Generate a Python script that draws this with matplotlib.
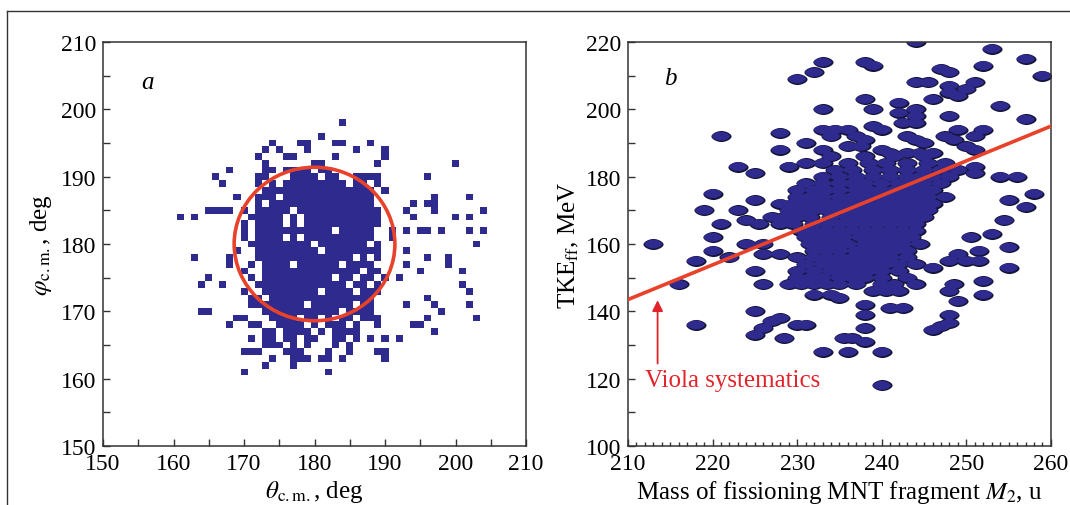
import numpy as np
import matplotlib
matplotlib.use('Agg')
import matplotlib.pyplot as plt
from matplotlib.path import Path
from matplotlib.markers import MarkerStyle
from matplotlib.patches import Circle
from matplotlib.lines import Line2D
from matplotlib.colors import ListedColormap
from matplotlib.ticker import MultipleLocator

plt.rcParams['font.family'] = 'serif'
plt.rcParams['font.serif'] = ['Liberation Serif', 'DejaVu Serif']
plt.rcParams['mathtext.fontset'] = 'stix'

# panel a: occupied 1-deg cells, theta values listed for each phi row
cells_a = {
    198: [184],
    196: [181],
    195: [174, 178, 179, 183, 184, 188],
    194: [173, 175, 179, 186, 190],
    193: [172, 176, 177, 183, 190],
    192: [173, 180, 181, 189, 200],
    191: [168, 173, 174, 176, 177, 178, 179, 181, 182],
    190: [166, 172, 173, 177, 178, 179, 180, 182, 183, 186, 187, 188, 189, 196],
    189: [167, 172, 174, 176, 177, 178, 179, 180, 181, 182, 183, 184, 186, 187, 189],
    188: [173, 174, 175, 176, 177, 178, 179, 180, 181, 182, 183, 184, 185, 186, 187, 188, 190],
    187: [169, 172, 173, 174, 176, 177, 178, 179, 180, 181, 182, 183, 184, 185, 186, 187, 188,
          197, 202],
    186: [172, 174, 175, 176, 177, 178, 179, 180, 181, 182, 183, 184, 185, 186, 187, 188,
          194, 196, 197],
    185: [165, 166, 167, 168, 170, 172, 173, 174, 175, 176, 178, 179, 180, 181, 182, 183,
          184, 185, 186, 187, 188, 189, 193, 197, 204],
    184: [161, 163, 171, 172, 173, 174, 175, 177, 179, 180, 181, 182, 183, 184, 185, 186,
          187, 188, 189, 194, 200, 202],
    183: [170, 172, 173, 174, 175, 177, 179, 180, 181, 182, 183, 184, 185, 186, 187, 188, 189],
    182: [170, 172, 173, 174, 175, 176, 177, 178, 179, 180, 181, 182, 184, 185, 186, 187, 188,
          191, 193, 195, 196, 198, 202, 204],
    181: [170, 172, 173, 174, 175, 177, 179, 180, 181, 182, 183, 184, 185, 186, 187, 188, 191],
    180: [171, 172, 173, 174, 175, 176, 177, 178, 179, 181, 182, 183, 184, 185, 186, 187,
          189, 203],
    179: [169, 172, 173, 174, 175, 176, 177, 178, 179, 180, 182, 183, 184, 185, 186, 187,
          188, 189, 193],
    178: [163, 168, 172, 173, 174, 175, 176, 177, 178, 179, 180, 181, 182, 183, 184, 185,
          187, 189, 196, 199],
    177: [168, 171, 173, 174, 175, 176, 178, 179, 180, 181, 182, 183, 185, 186, 187, 188,
          193, 199],
    176: [170, 173, 174, 175, 176, 177, 178, 179, 180, 181, 182, 183, 184, 185, 186, 188,
          189, 195, 201],
    175: [165, 171, 173, 174, 175, 176, 177, 178, 179, 180, 181, 182, 184, 185, 187, 188,
          190, 192],
    174: [164, 167, 172, 173, 174, 175, 176, 177, 178, 179, 180, 181, 182, 183, 184, 186,
          187, 189, 201],
    173: [170, 173, 174, 175, 176, 177, 178, 179, 180, 182, 183, 184, 185, 187, 188, 189, 202],
    172: [171, 172, 174, 175, 176, 177, 178, 179, 180, 181, 182, 183, 184, 185, 186, 187,
          188, 196],
    171: [171, 172, 173, 174, 175, 176, 177, 178, 180, 181, 182, 183, 184, 185, 187, 188,
          193, 197, 202],
    170: [164, 165, 173, 174, 175, 176, 177, 178, 179, 180, 181, 182, 183, 185, 186, 187,
          188, 198],
    169: [169, 170, 174, 175, 176, 177, 179, 180, 182, 184, 185, 187, 188, 189, 196, 203],
    168: [168, 171, 172, 175, 176, 177, 178, 180, 182, 183, 184, 186, 189, 194, 195],
    167: [173, 174, 176, 177, 178, 179, 181, 183, 184, 185, 186, 197],
    166: [171, 173, 174, 176, 177, 179, 180, 183, 184, 186, 188, 190, 192],
    165: [173, 174, 175, 177, 179, 183, 185],
    164: [170, 171, 172, 176, 177, 178, 182, 185, 189, 190],
    163: [174, 177, 178, 179, 181, 182, 184, 190],
    162: [173, 177],
    161: [170, 182],
}
circle_center = (180, 180)
circle_radius = 11.4

# panel b: blob centres (mass M2 values) listed for each TKE row
blobs_b = {
    220: [244], 218: [253], 215: [257], 214: [233, 238], 213: [239, 252],
    212: [247], 211: [232, 248], 210: [259], 209: [230], 208: [244, 245.5, 251],
    207: [248], 206: [250], 205: [248], 204: [249], 203: [238, 246], 202: [242],
    201: [254], 200: [233, 239, 244], 199: [242], 198: [244, 248], 197: [257],
    196: [242.5, 244], 195: [239], 194: [233, 234.5, 236, 240, 249, 252], 193: [228],
    192: [221, 234, 237, 243, 247.5, 251], 191: [238, 244, 248.5], 190: [231, 245],
    189: [236, 237.5, 250], 188: [228, 233, 240, 251], 187: [241, 243, 244.5, 246],
    186: [234, 238, 241.5, 245],
    184: [231, 233, 236, 238.5, 240.5, 243, 245.5, 247.5],
    183: [223, 229, 251],
    182: [234.5, 236.5, 239, 241, 243, 245, 247, 249],
    181: [225, 251],
    180: [233, 235, 237, 239, 241, 243, 244.5, 246, 248, 254, 256],
    178: [231, 233, 235, 236.5, 238, 240, 242, 243.5, 245, 247],
    176: [230, 232, 233.5, 235, 237, 238.5, 240, 241.5, 243, 244.5, 246],
    175: [220, 258],
    174: [230, 231.5, 233, 235, 236.5, 238, 239.5, 241, 242.5, 244, 245.5, 247.5],
    173: [225, 255],
    172: [228, 229.5, 231, 232.5, 234, 235.5, 237, 238.5, 240, 241.5, 243, 244.5, 246],
    171: [257],
    170: [219, 223, 229, 230.5, 232, 233.5, 235, 236.5, 238, 239.5, 241, 242.5, 244, 245.5],
    168: [227, 228.5, 230, 231.5, 234, 236, 237.5, 239, 240.5, 242, 243.5, 245],
    167: [224, 254.5],
    166: [221, 225.5, 228, 229.5, 232, 233.5, 235, 236.5, 238, 239.5, 241, 242.5, 244],
    164: [230.5, 232, 233.5, 235, 236.5, 238, 239.5, 241, 242.5, 244],
    163: [253],
    162: [220, 231, 232.5, 234, 235.5, 237.5, 239, 240.5, 242, 243.5, 250.5],
    160: [213, 224, 226, 231.5, 233, 234.5, 236, 238, 239.5, 241, 242.5, 244.5],
    159: [255],
    158: [220, 232, 233.5, 235, 237, 238.5, 240, 241.5, 243, 251.5],
    157: [226, 228, 249],
    156: [222, 230, 232, 233.5, 235, 236.5, 238, 239.5, 241, 243],
    155: [218, 248, 250, 251.5],
    154: [231, 233, 234.5, 236, 237.5, 239, 240.5, 242, 244],
    153: [255, 246],
    152: [225, 230, 232, 234, 235.5, 237, 238.5, 240, 242],
    150: [230, 231.5, 233, 235, 236.5, 238, 240, 243],
    149: [252],
    148: [216, 226, 229, 230.5, 232, 233.5, 235, 237, 240, 241.5, 244, 248.5],
    146: [239, 240.5, 242, 248],
    145: [232, 234, 252],
    144: [235],
    143: [249],
    142: [238],
    141: [241, 242.5],
    140: [225],
    139: [238, 248],
    138: [228],
    137: [227],
    136.5: [248],
    136: [218, 230, 231],
    135.5: [247],
    135: [226, 238],
    134.5: [246],
    133: [225],
    132: [228.5, 235.5, 236.5],
    131: [238],
    128: [233, 236, 240],
    118: [240],
}
viola_mass = [210, 260]
viola_tke = [143.5, 195]

theta_a = [t for p, ts in cells_a.items() for t in ts]
phi_a = [p for p, ts in cells_a.items() for t in ts]
mass_b = [m for t, ms in blobs_b.items() for m in ms]
tke_b = [t for t, ms in blobs_b.items() for m in ms]

navy = '#2f2a8e'
red = '#e8432a'

fig = plt.figure(figsize=(10.7, 5.06), dpi=100)
ax1 = fig.add_axes([0.0963, 0.1166, 0.3953, 0.7984])
ax2 = fig.add_axes([0.5869, 0.1166, 0.3953, 0.7984])

# --- panel a
edges = np.arange(149.5, 211.0, 1.0)
H, xe, ye = np.histogram2d(theta_a, phi_a, bins=[edges, edges])
H = np.ma.masked_equal(H.T, 0)
ax1.pcolormesh(xe, ye, H, cmap=ListedColormap([navy]), vmin=0, vmax=1)
ax1.add_patch(Circle(circle_center, circle_radius, fill=False, ec=red, lw=2.6, zorder=3))
ax1.set_xlim(150, 210)
ax1.set_ylim(150, 210)
ax1.xaxis.set_major_locator(MultipleLocator(10))
ax1.yaxis.set_major_locator(MultipleLocator(10))
ax1.xaxis.set_minor_locator(MultipleLocator(5))
ax1.yaxis.set_minor_locator(MultipleLocator(5))
ax1.set_xlabel(r'$\theta_{\mathrm{c{.}m{.}}}$, deg', fontsize=18, labelpad=3)
ax1.set_ylabel(r'$\varphi_{\mathrm{c{.}m{.}}}$, deg', fontsize=18, labelpad=5)
ax1.text(0.106, 0.90, 'a', transform=ax1.transAxes, fontsize=18, style='italic',
         ha='center', va='center')

# --- panel b: outlined layer first, then plain fill on top hides inner edges
t = np.linspace(0, 2 * np.pi, 73)
bx = np.sign(np.cos(t)) * np.abs(np.cos(t)) ** 1.2
by = 0.5 * np.sign(np.sin(t)) * np.abs(np.sin(t)) ** 1.2
blob = MarkerStyle(Path(np.column_stack([bx, by]), closed=True))
ax2.scatter(mass_b, tke_b, s=13.0 ** 2, marker=blob, facecolor=navy,
            edgecolor='#15153a', linewidth=1.5, zorder=2)
ax2.scatter(mass_b, tke_b, s=13.0 ** 2, marker=blob, facecolor=navy,
            edgecolor='none', zorder=2)
ax2.plot(viola_mass, viola_tke, color=red, lw=2.6, zorder=3)
ax2.annotate('', xy=(213.5, 143.3), xytext=(213.5, 124.5),
             arrowprops=dict(arrowstyle='-|>', color='#e3232a', lw=1.3,
                             mutation_scale=16, shrinkA=0, shrinkB=0))
ax2.text(212.0, 119.5, 'Viola systematics', color='#e3232a', fontsize=18,
         ha='left', va='center')
ax2.set_xlim(210, 260)
ax2.set_ylim(100, 220)
ax2.xaxis.set_major_locator(MultipleLocator(10))
ax2.xaxis.set_minor_locator(MultipleLocator(1))
ax2.yaxis.set_major_locator(MultipleLocator(20))
ax2.yaxis.set_minor_locator(MultipleLocator(10))
ax2.set_xlabel(r'Mass of fissioning MNT fragment $M_2$, u', fontsize=18, labelpad=3)
ax2.set_ylabel(r'TKE$_{\mathrm{ff}}$, MeV', fontsize=18, labelpad=3)
ax2.text(0.10, 0.91, 'b', transform=ax2.transAxes, fontsize=18, style='italic',
         ha='center', va='center')

for ax in (ax1, ax2):
    for sp in ax.spines.values():
        sp.set_linewidth(1.1)
        sp.set_color('#333333')
    ax.tick_params(which='both', direction='in', top=False, right=False,
                   labelsize=17, color='#333333', width=1.0)
    ax.tick_params(which='major', length=5, pad=5)
    ax.tick_params(which='minor', length=5)
ax2.tick_params(axis='x', which='minor', length=3)
ax2.yaxis.get_major_ticks()[1].tick1line.set_color('#1a9a3a')

# page frame lines
fig.add_artist(Line2D([0.007, 1.0], [0.976, 0.976], color='#333333', lw=1.0))
fig.add_artist(Line2D([0.007, 0.007], [0.0, 0.976], color='#333333', lw=1.0))

fig.savefig('out.png', dpi=100)
